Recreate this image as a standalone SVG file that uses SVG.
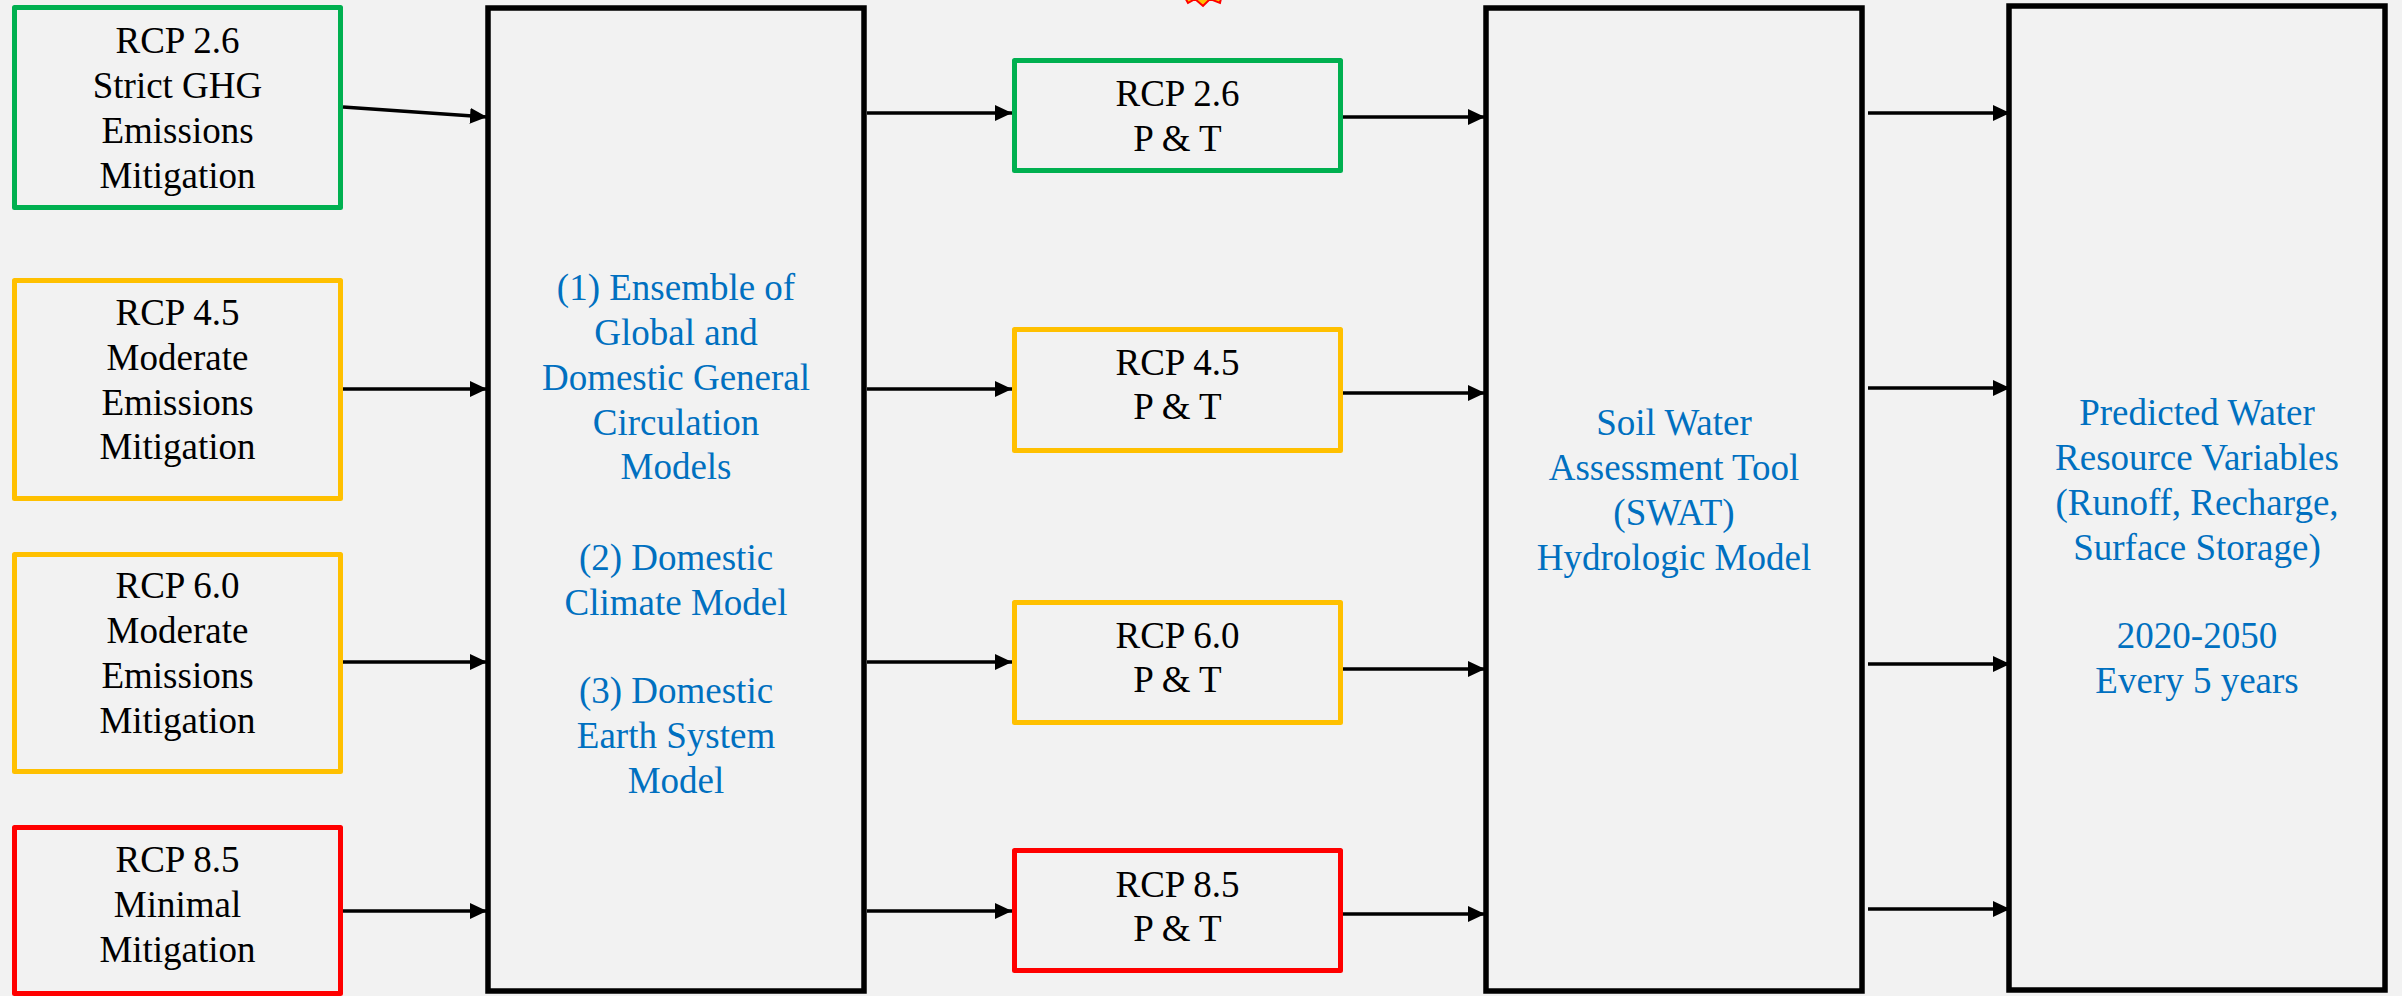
<svg xmlns="http://www.w3.org/2000/svg" width="2402" height="996" viewBox="0 0 2402 996">
  <defs>
    <marker id="arrow" markerUnits="userSpaceOnUse" markerWidth="18" markerHeight="17" refX="17" refY="8" orient="auto">
      <path d="M0,0 L17,8 L0,16 z" fill="#000000"/>
    </marker>
    <style>
      .bg { fill: #F2F2F2; }
      .box { fill: #F2F2F2; stroke-width: 5; stroke-linejoin: round; }
      .black { stroke: #000000; stroke-width: 5.5; stroke-linejoin: miter; }
      .green { stroke: #00B050; }
      .yellow { stroke: #FFC000; }
      .red { stroke: #FF0000; }
      text { font-family: "Liberation Serif", "Times New Roman", serif; font-size: 37px; text-anchor: middle; fill: #000000; }
      .b { fill: #0070C0; }
      .conn line { stroke: #000000; stroke-width: 3.5; marker-end: url(#arrow); }
    </style>
  </defs>
  <rect class="bg" x="0" y="0" width="2402" height="996"/>

  <polygon points="1183,-6 1188,3 1195,-1 1203,6 1210,-1 1220,3 1222,-6" fill="#FFC000" stroke="#FF0000" stroke-width="2"/>

  <g id="rcp26">
    <rect class="box green" x="14.5" y="7.5" width="326" height="200"/>
    <text x="177.5" y="53">RCP 2.6</text>
    <text x="177.5" y="98">Strict GHG</text>
    <text x="177.5" y="143">Emissions</text>
    <text x="177.5" y="188">Mitigation</text>
  </g>
  <g id="rcp45">
    <rect class="box yellow" x="14.5" y="280.5" width="326" height="218"/>
    <text x="177.5" y="325">RCP 4.5</text>
    <text x="177.5" y="370">Moderate</text>
    <text x="177.5" y="415">Emissions</text>
    <text x="177.5" y="459">Mitigation</text>
  </g>
  <g id="rcp60">
    <rect class="box yellow" x="14.5" y="554.5" width="326" height="217"/>
    <text x="177.5" y="598">RCP 6.0</text>
    <text x="177.5" y="643">Moderate</text>
    <text x="177.5" y="688">Emissions</text>
    <text x="177.5" y="733">Mitigation</text>
  </g>
  <g id="rcp85">
    <rect class="box red" x="14.5" y="827.5" width="326" height="166"/>
    <text x="177.5" y="872">RCP 8.5</text>
    <text x="177.5" y="917">Minimal</text>
    <text x="177.5" y="962">Mitigation</text>
  </g>

  <g id="gcm">
    <rect class="box black" x="488" y="8" width="376" height="983"/>
    <text class="b" x="676" y="300">(1) Ensemble of</text>
    <text class="b" x="676" y="345">Global and</text>
    <text class="b" x="676" y="390">Domestic General</text>
    <text class="b" x="676" y="435">Circulation</text>
    <text class="b" x="676" y="479">Models</text>
    <text class="b" x="676" y="570">(2) Domestic</text>
    <text class="b" x="676" y="615">Climate Model</text>
    <text class="b" x="676" y="703">(3) Domestic</text>
    <text class="b" x="676" y="748">Earth System</text>
    <text class="b" x="676" y="793">Model</text>
  </g>

  <g id="pt26">
    <rect class="box green" x="1014.5" y="60.5" width="326" height="110"/>
    <text x="1177.5" y="106">RCP 2.6</text>
    <text x="1177.5" y="151">P &amp; T</text>
  </g>
  <g id="pt45">
    <rect class="box yellow" x="1014.5" y="329.5" width="326" height="121"/>
    <text x="1177.5" y="375">RCP 4.5</text>
    <text x="1177.5" y="419">P &amp; T</text>
  </g>
  <g id="pt60">
    <rect class="box yellow" x="1014.5" y="602.5" width="326" height="120"/>
    <text x="1177.5" y="648">RCP 6.0</text>
    <text x="1177.5" y="692">P &amp; T</text>
  </g>
  <g id="pt85">
    <rect class="box red" x="1014.5" y="850.5" width="326" height="120"/>
    <text x="1177.5" y="897">RCP 8.5</text>
    <text x="1177.5" y="941">P &amp; T</text>
  </g>

  <g id="swat">
    <rect class="box black" x="1486" y="8" width="376" height="983"/>
    <text class="b" x="1674" y="435">Soil Water</text>
    <text class="b" x="1674" y="480">Assessment Tool</text>
    <text class="b" x="1674" y="525">(SWAT)</text>
    <text class="b" x="1674" y="570">Hydrologic Model</text>
  </g>

  <g id="predicted">
    <rect class="box black" x="2009" y="6" width="376" height="984"/>
    <text class="b" x="2197" y="425">Predicted Water</text>
    <text class="b" x="2197" y="470">Resource Variables</text>
    <text class="b" x="2197" y="515">(Runoff, Recharge,</text>
    <text class="b" x="2197" y="560">Surface Storage)</text>
    <text class="b" x="2197" y="648">2020-2050</text>
    <text class="b" x="2197" y="693">Every 5 years</text>
  </g>

  <g id="connectors" class="conn">
    <line x1="343" y1="107" x2="487" y2="117"/>
    <line x1="343" y1="389" x2="487" y2="389"/>
    <line x1="343" y1="662" x2="487" y2="662"/>
    <line x1="343" y1="911" x2="487" y2="911"/>

    <line x1="867" y1="113" x2="1012" y2="113"/>
    <line x1="867" y1="389" x2="1012" y2="389"/>
    <line x1="867" y1="662" x2="1012" y2="662"/>
    <line x1="867" y1="911" x2="1012" y2="911"/>

    <line x1="1343" y1="117" x2="1485" y2="117"/>
    <line x1="1343" y1="393" x2="1485" y2="393"/>
    <line x1="1343" y1="669" x2="1485" y2="669"/>
    <line x1="1343" y1="914" x2="1485" y2="914"/>

    <line x1="1868" y1="113" x2="2010" y2="113"/>
    <line x1="1868" y1="388" x2="2010" y2="388"/>
    <line x1="1868" y1="664" x2="2010" y2="664"/>
    <line x1="1868" y1="909" x2="2010" y2="909"/>
  </g>
</svg>
